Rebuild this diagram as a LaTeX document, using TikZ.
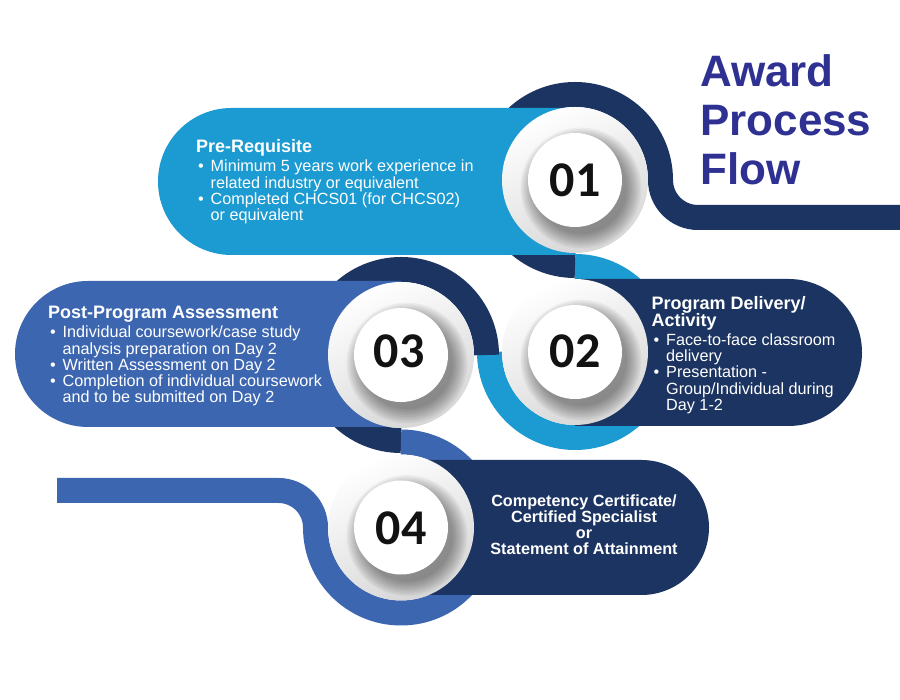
\documentclass[tikz,border=0pt]{standalone}
\usepackage{fontspec}
\setmainfont{Liberation Sans}
\newfontfamily\numfont{Carlito}
\usetikzlibrary{calc}
\definecolor{cyanC}{HTML}{1B9BD1}
\definecolor{navyC}{HTML}{1C3461}
\definecolor{blueC}{HTML}{3D66B1}
\definecolor{titleC}{HTML}{2E3192}
\newcommand{\bl}{\hspace*{2pt}\makebox[12.5pt][l]{•}}
\newcommand{\cl}{\hspace*{14.5pt}}
\newcommand{\hdsize}{\fontsize{18}{17}\selectfont\bfseries}
\newcommand{\bdsize}{\fontsize{16.2}{16.2}\selectfont\mdseries}
\begin{document}
\begin{tikzpicture}[x=1pt,y=1pt,
  band/.style={line width=25pt, line cap=butt},
  num/.style={anchor=base, inner sep=0pt, text=black!93, font=\numfont\bfseries\fontsize{50}{50}\selectfont},
  txt/.style={anchor=base west, inner sep=0pt, text=white},
  disc/.pic={
    \shade[top color=white, bottom color=black!16, shading angle=25] (0,0) circle (73);
    \begin{scope}
      \clip (0,0) circle (73);
      \foreach \r in {46,47.6,...,62} \fill[black,opacity=0.045] (6,-8) circle (\r);
    \end{scope}
    \fill[white] (0,0) circle (47);
  }]
\useasboundingbox (0,0) rectangle (900,700);
\fill[white] (0,0) rectangle (900,700);

\coordinate (c1) at (575,520);
\coordinate (c2) at (575,348);
\coordinate (c3) at (401,345);
\coordinate (c4) at (401,172.5);
\coordinate (e1) at (900,482.5);
\coordinate (e4) at (57,209.5);

% rings / bands
\draw[band,cyanC] ($(c2)+(0,85.5)$) arc[start angle=90,end angle=-180,radius=85.5];
\draw[band,navyC] ($(c1)+(0,-85.5)$) arc[start angle=270,end angle=0,radius=85.5]
  arc[start angle=180,end angle=270,radius=37.5] -- (e1);
\draw[band,navyC] ($(c3)+(85.5,0)$) arc[start angle=0,end angle=270,radius=85.5];
\draw[band,blueC] (e4) -- (278.5,209.5) arc[start angle=90,end angle=0,radius=37]
  arc[start angle=180,end angle=450,radius=85.5];

% pills
\fill[cyanC] (575,445) -- (231.5,445) arc[start angle=270,end angle=90,radius=73.5] -- (575,592) -- cycle;
\fill[navyC] (575,274) -- (788.5,274) arc[start angle=-90,end angle=90,radius=73.5] -- (575,421) -- cycle;
\fill[blueC] (401,273) -- (88,273) arc[start angle=270,end angle=90,radius=73] -- (401,419) -- cycle;
\fill[navyC] (401,105) -- (641.5,105) arc[start angle=-90,end angle=90,radius=67.5] -- (401,240) -- cycle;

% discs
\pic at (c1) {disc};
\pic at (c2) {disc};
\pic at (c3) {disc};
\pic at (c4) {disc};

\node[num] (n1) at (575,503) {01};
\node[num] (n2) at (575,332) {02};
\node[num] (n3) at (399,332) {03};
\node[num] (n4) at (401,155) {04};

% texts
\node[txt] (t1) at (196,547.3) {\parbox[t]{320pt}{%
  {\hdsize Pre-Requisite\par}\vspace{3pt}
  {\bdsize\bl Minimum 5 years work experience in\\
  \cl related industry or equivalent\\
  \bl Completed CHCS01 (for CHCS02)\\
  \cl or equivalent\par}}};

\node[txt] (t2) at (651.5,390.7) {\parbox[t]{220pt}{%
  {\hdsize Program Delivery/\\Activity\par}\vspace{3pt}
  {\bdsize\bl Face-to-face classroom\\
  \cl delivery\\
  \bl Presentation -\\
  \cl Group/Individual during\\
  \cl Day 1-2\par}}};

\node[txt] (t3) at (48,381.7) {\parbox[t]{320pt}{%
  {\hdsize Post-Program Assessment\par}\vspace{3.5pt}
  {\bdsize\bl Individual coursework/case study\\
  \cl analysis preparation on Day 2\\
  \bl Written Assessment on Day 2\\
  \bl Completion of individual coursework\\
  \cl and to be submitted on Day 2\par}}};

\node[anchor=base, inner sep=0pt, text=white] (t4) at (584,193.3) {\parbox[t]{260pt}{\centering
  \fontsize{16.2}{16.1}\selectfont\bfseries
  Competency Certificate/\\ Certified Specialist\\ or\\ Statement of Attainment\par}};

\node[anchor=base west, inner sep=0pt, text=titleC] (title) at (700,613.3) {\parbox[t]{200pt}{%
  \fontsize{44}{49}\selectfont\bfseries Award\\ Process\\ Flow\par}};
\end{tikzpicture}
\end{document}
